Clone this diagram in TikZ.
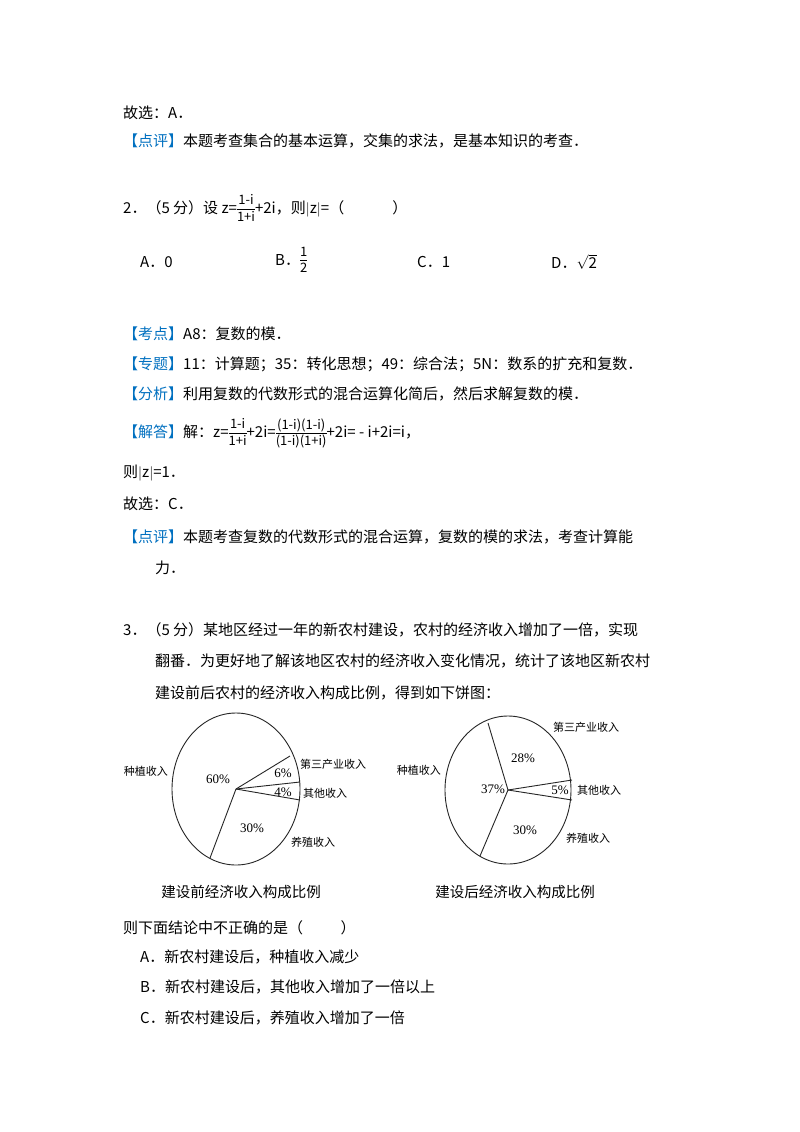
\documentclass[tikz,border=0pt]{standalone}
\usepackage{amsmath}
\usepackage{fontspec}
\setmainfont{Noto Sans CJK SC}
\newfontfamily\pctfont{Liberation Serif}
\definecolor{tagblue}{RGB}{0,112,192}
\newcommand{\tagb}[1]{\textcolor{tagblue}{【#1】}}
\newcommand{\fr}[2]{{\fontsize{13}{14}\selectfont\setlength{\tabcolsep}{0pt}\renewcommand{\arraystretch}{0.95}\begin{tabular}{@{}c@{}}#1\\\hline\rule{0pt}{12pt}#2\end{tabular}}}
\begin{document}
\begin{tikzpicture}[x=1pt,y=-1pt,
  txt/.style={anchor=west,inner sep=0pt,font=\fontsize{15}{15}\selectfont},
  lbl/.style={inner sep=0pt,font=\fontsize{11}{11}\selectfont},
  pct/.style={inner sep=0pt,font=\pctfont\fontsize{13}{13}\selectfont},
  pie/.style={draw=black!85,line width=0.9pt}]
\useasboundingbox[fill=white] (0,0) rectangle (800,1132);
\node[txt] (l1) at (123,113) {故选：A．};
\node[txt] (l2) at (123,141) {\tagb{点评}本题考查集合的基本运算，交集的求法，是基本知识的考查．};
\node[txt] (l3) at (123,210) {2．（5 分）设 z=\fr{1-i}{1+i}+2i，则$|$z$|$=（\hspace{3.2em}）};
\node[txt] (oA) at (140,262) {A．0};
\node[txt] (oB) at (275,262) {B．\fr{1}{2}};
\node[txt] (oC) at (417,262) {C．1};
\node[txt] (oD) at (551,262) {D．$\sqrt{\mbox{2}}$};
\node[txt] (k1) at (123,334) {\tagb{考点}A8：复数的模．};
\node[txt] (k2) at (123,364) {\tagb{专题}11：计算题；35：转化思想；49：综合法；5N：数系的扩充和复数．};
\node[txt] (k3) at (123,394) {\tagb{分析}利用复数的代数形式的混合运算化简后，然后求解复数的模．};
\node[txt] (k4) at (123,434) {\tagb{解答}解：z=\fr{1-i}{1+i}+2i=\fr{(1-i)(1-i)}{(1-i)(1+i)}+2i= - i+2i=i，};
\node[txt] (k5) at (123,473) {则$|$z$|$=1．};
\node[txt] (k6) at (123,504) {故选：C．};
\node[txt] (k7) at (123,537) {\tagb{点评}本题考查复数的代数形式的混合运算，复数的模的求法，考查计算能};
\node[txt] (k8) at (155,568) {力．};
\node[txt] (q1) at (123,630) {3．（5 分）某地区经过一年的新农村建设，农村的经济收入增加了一倍，实现};
\node[txt] (q2) at (155,661) {翻番．为更好地了解该地区农村的经济收入变化情况，统计了该地区新农村};
\node[txt] (q3) at (155,693) {建设前后农村的经济收入构成比例，得到如下饼图：};
% left pie
\coordinate (c1) at (236,789);
\draw[pie] (c1) ellipse [x radius=64, y radius=76];
\coordinate (a1) at (290,756);
\coordinate (a2) at (300,782);
\coordinate (a3) at (300,800);
\coordinate (a4) at (210,858);
\foreach \p in {a1,a2,a3,a4} \draw[pie] (c1) -- (\p);
\node[lbl,anchor=east] (t1) at (168,771) {种植收入};
\node[pct] (p1) at (218,779) {60\%};
\node[pct] (p2) at (283,773) {6\%};
\node[lbl,anchor=west] (t2) at (300,764) {第三产业收入};
\node[pct] (p3) at (283,792) {4\%};
\node[lbl,anchor=west] (t3) at (303,793) {其他收入};
\node[pct] (p4) at (252,828) {30\%};
\node[lbl,anchor=west] (t4) at (291,842) {养殖收入};
\node[txt,anchor=center,font=\fontsize{14.5}{14.5}\selectfont] (cap1) at (241,892) {建设前经济收入构成比例};
% right pie
\coordinate (c2) at (508,790);
\draw[pie] (c2) ellipse [x radius=63, y radius=74];
\coordinate (b1) at (488,723);
\coordinate (b2) at (572,780);
\coordinate (b3) at (572,800);
\coordinate (b4) at (480,856);
\foreach \p in {b1,b2,b3,b4} \draw[pie] (c2) -- (\p);
\node[lbl,anchor=east] (s1) at (441,770) {种植收入};
\node[pct] (r1) at (493,789) {37\%};
\node[pct] (r2) at (523,758) {28\%};
\node[lbl,anchor=west] (s2) at (553,727) {第三产业收入};
\node[pct] (r3) at (560,790) {5\%};
\node[lbl,anchor=west] (s3) at (577,790) {其他收入};
\node[pct] (r4) at (525,830) {30\%};
\node[lbl,anchor=west] (s4) at (566,838) {养殖收入};
\node[txt,anchor=center,font=\fontsize{14.5}{14.5}\selectfont] (cap2) at (515,892) {建设后经济收入构成比例};
\node[txt] (e1) at (123,928) {则下面结论中不正确的是（\hspace{2.5em}）};
\node[txt] (e2) at (140,957) {A．新农村建设后，种植收入减少};
\node[txt] (e3) at (140,987) {B．新农村建设后，其他收入增加了一倍以上};
\node[txt] (e4) at (140,1018) {C．新农村建设后，养殖收入增加了一倍};
\end{tikzpicture}
\end{document}
